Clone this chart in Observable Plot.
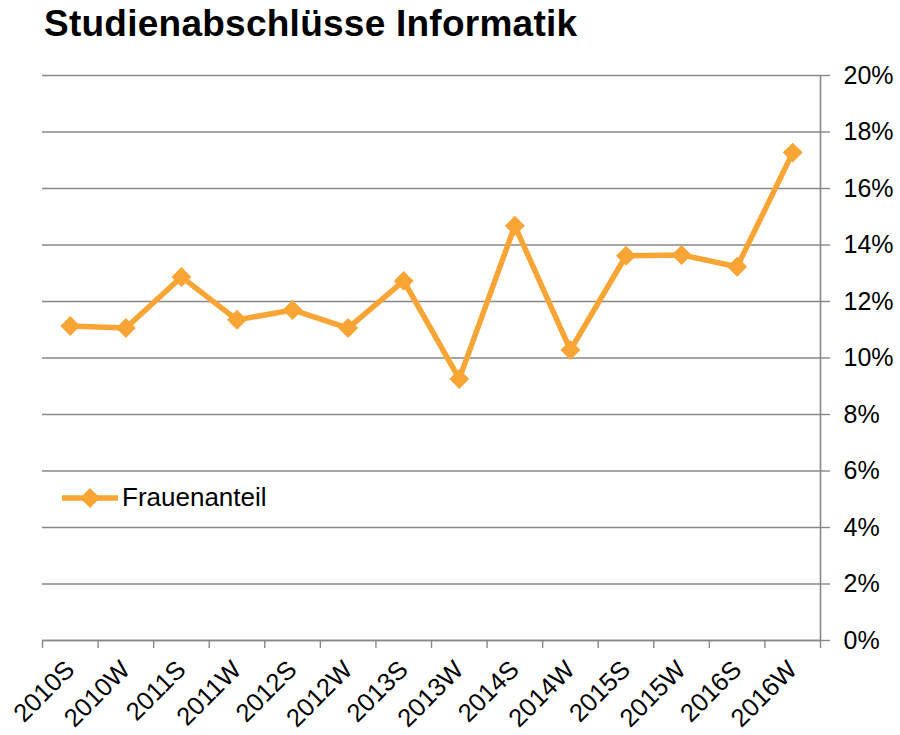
<!DOCTYPE html>
<html>
<head>
<meta charset="utf-8">
<script src="https://cdn.jsdelivr.net/npm/d3@7"></script>
<script src="https://cdn.jsdelivr.net/npm/@observablehq/plot@0.6"></script>
<style>
  html, body { margin: 0; padding: 0; background: #fff; }
  body { width: 900px; height: 735px; position: relative; overflow: hidden; font-family: "Liberation Sans", Arial, sans-serif; }
  #title { position: absolute; left: 44px; top: 3px; font-size: 37px; font-weight: bold; color: #000; white-space: nowrap; letter-spacing: 0.25px; }
  #chart { position: absolute; left: 0; top: 50px; }
  #legend { position: absolute; left: 60px; top: 482px; display: flex; align-items: center; font-size: 26px; color: #000; }
</style>
</head>
<body>
<div id="title">Studienabschlüsse Informatik</div>
<div id="chart"></div>
<div id="legend"></div>
<script>
const categories = ["2010S","2010W","2011S","2011W","2012S","2012W","2013S","2013W","2014S","2014W","2015S","2015W","2016S","2016W"];
const frauenanteil = [0.1113, 0.1106, 0.1287, 0.1135, 0.1170, 0.1106, 0.1273, 0.0926, 0.1468, 0.1028, 0.1362, 0.1365, 0.1323, 0.1727];
const yTicks = [0, 0.02, 0.04, 0.06, 0.08, 0.10, 0.12, 0.14, 0.16, 0.18, 0.20];
const seriesName = "Frauenanteil";
const color = "#F8A535";
const gray = "#888888";

const data = categories.map((c, i) => ({i, c, v: frauenanteil[i]}));
const boundaries = d3.range(categories.length + 1).map(k => k - 0.5);

const chart = Plot.plot({
  width: 900,
  height: 685,
  marginLeft: 42,
  marginRight: 80,
  marginTop: 25,
  marginBottom: 95,
  style: {fontFamily: "'Liberation Sans', Arial, sans-serif", fontSize: "25px", color: "#000", background: "#fff"},
  x: {type: "linear", domain: [-0.5, categories.length - 0.5]},
  y: {domain: [0, 0.2]},
  marks: [
    Plot.gridY(yTicks, {stroke: gray, strokeOpacity: 1, strokeWidth: 1.4, x1: -0.5, x2: categories.length - 0.5}),
    Plot.axisY(yTicks, {anchor: "right", tickSize: 9, tickPadding: 14, stroke: gray, strokeWidth: 1.4, tickFormat: d => Math.round(d * 100) + "%", fill: "#000", label: null}),
    Plot.ruleX([categories.length - 0.5], {stroke: gray, strokeWidth: 1.6}),
    Plot.ruleY([0], {stroke: gray, strokeWidth: 1.6}),
    Plot.axisX(boundaries, {anchor: "bottom", tickSize: 8, stroke: gray, strokeWidth: 1.4, tickFormat: () => "", label: null}),
    Plot.axisX(d3.range(categories.length), {anchor: "bottom", tickSize: 0, tickPadding: 25, tickRotate: -45, fontSize: 25.5, tickFormat: i => categories[i], fill: "#000", label: null}),
    Plot.line(data, {x: "i", y: "v", stroke: color, strokeWidth: 5.5, strokeLinejoin: "miter", strokeLinecap: "butt"}),
    Plot.dot(data, {x: "i", y: "v", symbol: "diamond2", r: 9, fill: color, stroke: "none"})
  ]
});
document.getElementById("chart").appendChild(chart);

const lg = document.getElementById("legend");
lg.innerHTML = `<svg width="60" height="24" style="margin-right:2px"><line x1="2" y1="12" x2="58" y2="12" stroke="${color}" stroke-width="5.5"/><path d="M30,2 L40,12 L30,22 L20,12 Z" fill="${color}"/></svg><span>${seriesName}</span>`;
</script>
</body>
</html>
